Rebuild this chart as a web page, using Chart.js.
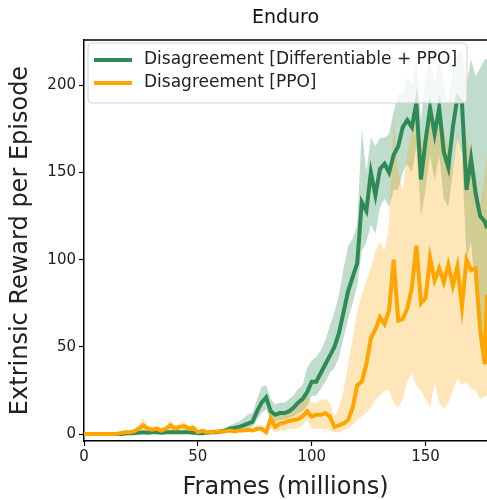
<!DOCTYPE html>
<html>
<head>
    <title>Enduro</title>
    <script src="https://cdn.jsdelivr.net/npm/chart.js@4.4.1/dist/chart.umd.min.js"></script>
    <style>
        html, body { margin: 0; padding: 0; background: #fff; }
        #wrap { width: 487px; height: 500px; }
    </style>
</head>
<body>
    <div id="wrap"><canvas id="chart" width="487" height="500"></canvas></div>
    <script>
        // frames in millions
        var frames = [0,2,4,6,8,10,12,14,16,18,
            20,22,24,26,28,30,32,34,36,38,
            40,42,44,46,48,50,52,54,56,58,
            60,62,64,66,68,70,72,74,76,78,
            80,82,84,86,88,90,92,94,96,98,
            100,102,104,106,108,110,112,114,116,118,
            120,122,124,126,128,130,132,134,136,138,
            140,142,144,146,148,150,152,154,156,158,
            160,162,164,166,168,170,172,174,176,177];

        // Disagreement [Differentiable + PPO]
        var greenMean = [0,0,0,0,0,0,0,0,0,0.3,
            0.5,0.5,0.8,1,0.8,1,1,0.8,1,1,
            1.2,1,1,1,0.8,0.5,0.5,0.8,1,1,
            1.5,2,3,3.5,4,5,6,7,13,18,
            21,13,11,12,12,13,15,18,20,24,
            30,30,35,40,45,50,58,70,82,90,
            98,133,128,150,137,152,155,150,160,165,
            176,180,176,190,146,168,187,172,187,162,
            153,176,193,190,140,158,138,125,122,118];
        var greenLow = [0,0,0,0,0,0,0,0,0,0,
            0,0,0.2,0.4,0.2,0.4,0.4,0.2,0.4,0.4,
            0.5,0.4,0.4,0.4,0.2,0,0,0.2,0.4,0.4,
            0.8,1,1.5,2,2,2.5,3,4,8,12,
            14,8,7,8,8,9,10,12,13,16,
            22,22,26,30,35,38,44,55,66,75,
            85,105,110,120,115,130,135,130,140,140,
            150,155,150,165,125,140,160,145,160,135,
            130,150,170,160,100,110,80,50,40,40];
        var greenHigh = [0.5,0.5,0.5,0.5,0.5,0.5,0.5,0.5,0.5,0.8,
            1,1,1.5,1.8,1.5,1.8,1.8,1.5,1.8,1.8,
            2,1.8,1.8,1.8,1.5,1,1,1.5,1.8,2,
            2.5,3.5,5,6,7,9,11,12,20,27,
            28,20,17,18,18,20,22,26,28,38,
            42,44,48,54,62,70,80,95,108,112,
            120,175,150,170,165,170,170,172,185,195,
            195,205,200,215,180,205,215,200,215,200,
            190,210,218,220,200,215,205,210,215,215];

        // Disagreement [PPO]
        var orangeMean = [0,0,0,0,0,0,0,0,0.5,1,
            1,1.5,3,5,3,2.5,3,2,3,5,
            3,4,4.5,3,3.5,1,2,1,1,1.5,
            1.5,1.5,2,1.5,2,2,2.5,2,3,3,
            1,9,4,6,6.5,7.5,8,8.5,10,13,
            10,11,11,12,10,4,5,6,8,15,
            28,30,40,55,60,67,63,71,100,65,
            66,72,84,108,75,78,101,88,95,87,
            97,85,96,73,100,94,95,60,40,80];
        var orangeLow = [0,0,0,0,0,0,0,0,0,0.3,
            0.5,0.8,1.5,2,1.5,1.2,1.5,1,1.5,2,
            1.5,2,2,1.5,2,0.5,1,0.5,0.5,0.8,
            0.8,0.8,1,0.8,1,1,1.5,1,1.5,1.5,
            0,3,1,2,2,3,3,3,5,8,
            3,3,3,3,2,1,1,2,3,5,
            8,10,12,15,20,22,25,25,18,15,
            20,30,35,28,25,20,15,30,18,14,
            18,25,32,28,30,26,25,20,22,22];
        var orangeHigh = [0.5,0.5,0.5,0.5,0.5,0.5,0.5,0.5,1,2,
            2,3,5,9,5,4,5,4,5,8,
            5,6,7,5,6,2,3,2,2,2.5,
            2.5,2.5,3,2.5,3,3,3.5,3,5,5,
            3,15,8,11,12,13,14,16,20,22,
            18,18,20,20,18,10,15,25,40,55,
            70,80,88,95,105,110,105,120,182,150,
            140,160,175,185,165,175,185,165,180,175,
            165,150,175,155,170,160,150,130,150,160];

        var xTicks = [0, 50, 100, 150];
        var yTicks = [0, 50, 100, 150, 200];

        var GREEN = 'rgb(46,139,87)';
        var ORANGE = 'rgb(255,165,0)';
        var FONT = 'DejaVu Sans';

        function pts(ys) {
            return frames.map(function (f, i) { return {x: f, y: ys[i]}; });
        }

        function band(ys, color, fill) {
            return {
                data: pts(ys),
                borderWidth: 0,
                pointRadius: 0,
                backgroundColor: color,
                fill: fill,
                tension: 0
            };
        }

        // small plugin: title over the plot, top spine and the legend box inside the axes
        var decor = {
            id: 'decor',
            afterDraw: function (chart) {
                var ctx = chart.ctx;
                var a = chart.chartArea;
                ctx.save();
                ctx.fillStyle = '#111';
                ctx.font = '19px "' + FONT + '"';
                ctx.textAlign = 'center';
                ctx.textBaseline = 'middle';
                ctx.fillText('Enduro', (a.left + a.right) / 2, 18);

                ctx.strokeStyle = '#000';
                ctx.lineWidth = 1.5;
                ctx.beginPath();
                ctx.moveTo(a.left, a.top);
                ctx.lineTo(a.right, a.top);
                ctx.stroke();

                // legend
                var bx = a.left + 4, by = a.top + 3, bw = 379, bh = 60;
                ctx.beginPath();
                ctx.roundRect(bx, by, bw, bh, 4);
                ctx.fillStyle = 'rgba(255,255,255,0.8)';
                ctx.fill();
                ctx.strokeStyle = 'rgba(204,204,204,0.9)';
                ctx.lineWidth = 1;
                ctx.stroke();

                var items = chart.data.datasets.filter(function (d) { return d.label; });
                items.sort(function (p, q) { return p.legendRank - q.legendRank; });
                items.forEach(function (d, i) {
                    var yy = by + 17 + i * 23;
                    ctx.strokeStyle = d.borderColor;
                    ctx.lineWidth = 4;
                    ctx.beginPath();
                    ctx.moveTo(bx + 6, yy);
                    ctx.lineTo(bx + 44, yy);
                    ctx.stroke();
                    ctx.fillStyle = '#222';
                    ctx.font = '17px "' + FONT + '"';
                    ctx.textAlign = 'left';
                    ctx.textBaseline = 'middle';
                    ctx.fillText(d.label, bx + 56, yy);
                });
                ctx.restore();
            }
        };

        var ctx = document.getElementById('chart').getContext('2d');
        var chart = new Chart(ctx, {
            type: 'line',
            data: {
                datasets: [
                    // first dataset is drawn on top
                    {
                        label: 'Disagreement [PPO]',
                        legendRank: 1,
                        data: pts(orangeMean),
                        borderColor: ORANGE,
                        borderWidth: 4,
                        pointRadius: 0,
                        fill: false,
                        tension: 0
                    },
                    {
                        label: 'Disagreement [Differentiable + PPO]',
                        legendRank: 0,
                        data: pts(greenMean),
                        borderColor: GREEN,
                        borderWidth: 4,
                        pointRadius: 0,
                        fill: false,
                        tension: 0
                    },
                    band(orangeHigh, 'rgba(255,165,0,0.28)', '+1'),
                    band(orangeLow, 'rgba(0,0,0,0)', false),
                    band(greenHigh, 'rgba(46,139,87,0.3)', '+1'),
                    band(greenLow, 'rgba(0,0,0,0)', false)
                ]
            },
            options: {
                responsive: false,
                animation: false,
                layout: { padding: { top: 40, right: 0, left: 0, bottom: 0 } },
                plugins: {
                    legend: { display: false },
                    title: { display: false },
                    tooltip: { enabled: false }
                },
                scales: {
                    x: {
                        type: 'linear',
                        min: 0,
                        max: 177,
                        afterFit: function (s) { s.height = 59; },
                        afterBuildTicks: function (s) {
                            s.ticks = xTicks.map(function (v) { return {value: v}; });
                        },
                        grid: {
                            drawOnChartArea: false,
                            drawTicks: true,
                            tickLength: 5,
                            tickColor: '#000',
                            tickWidth: 1.2
                        },
                        border: { display: true, color: '#000', width: 1.5 },
                        ticks: {
                            color: '#222',
                            font: { family: FONT, size: 15 },
                            padding: 2,
                            maxRotation: 0
                        },
                        title: {
                            display: true,
                            text: 'Frames (millions)',
                            color: '#222',
                            font: { family: FONT, size: 24 },
                            padding: { top: 0, bottom: -2 }
                        }
                    },
                    y: {
                        min: -4,
                        max: 226,
                        afterFit: function (s) { s.width = 84; },
                        afterBuildTicks: function (s) {
                            s.ticks = yTicks.map(function (v) { return {value: v}; });
                        },
                        grid: {
                            drawOnChartArea: false,
                            drawTicks: true,
                            tickLength: 5,
                            tickColor: '#000',
                            tickWidth: 1.2
                        },
                        border: { display: true, color: '#000', width: 1.5 },
                        ticks: {
                            color: '#222',
                            font: { family: FONT, size: 15 },
                            padding: 3
                        },
                        title: {
                            display: true,
                            text: 'Extrinsic Reward per Episode',
                            color: '#222',
                            font: { family: FONT, size: 24 },
                            padding: { top: 6, bottom: 0 }
                        }
                    }
                }
            },
            plugins: [decor]
        });
    </script>
</body>
</html>
